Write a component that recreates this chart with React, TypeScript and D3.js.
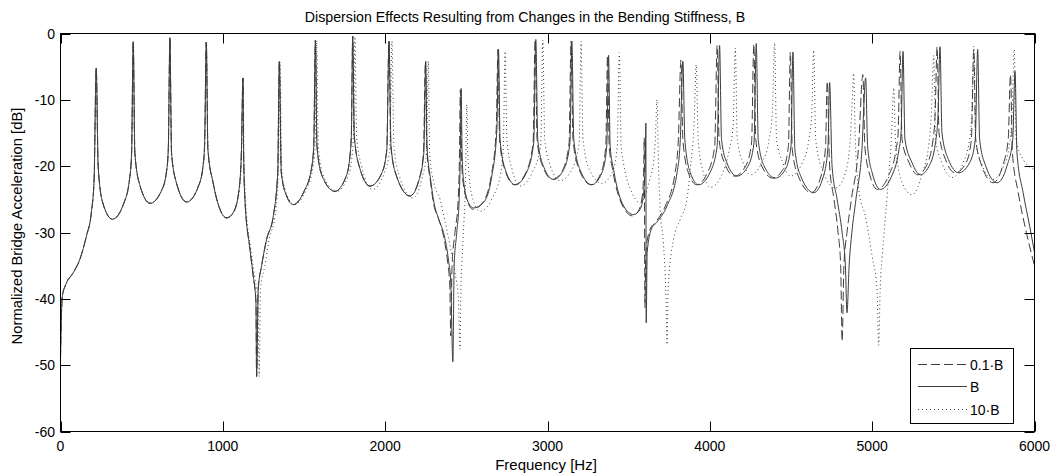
import React from "react";
import * as d3 from "d3";

type Pt = [number, number];

const xTicks = [0, 1000, 2000, 3000, 4000, 5000, 6000];
const yTicks = [0, -10, -20, -30, -40, -50, -60];

const seriesLabels = ["0.1·B", "B", "10·B"];

// 0.1·B (dashed)
const seriesTenthB: Pt[] = [
  [0,-49],[4,-44],[12,-39.5],[30,-38],[80,-36],[120,-34],[160,-30.5],[190,-27],[207,-22],[220,-5.2],[232,-20],[260,-25.5],[320,-28],
  [390,-25.6],[425,-22],[438,-18],[448,-1.2],[458,-18],[488,-22.8],[552,-25.6],
  [620,-23.8],[652,-21],[664,-17.5],[674,-0.65],[684,-18],[714,-22.5],[777,-25.4],
  [850,-23],[878,-20],[888,-16.5],[898,-1.3],[908,-17.5],[940,-22.5],[1023,-27.8],
  [1064,-27],[1100,-23.5],[1114,-18],[1124,-6.7],[1128,-18],[1136,-25],[1167,-32.5],[1187,-36.5],[1204,-40.5],[1208,-51.7],[1218,-38.5],[1239,-35],[1270,-31],[1311,-27.5],[1338,-21],[1348,-4.2],[1360,-21],[1393,-24.5],[1434,-25.8],
  [1500,-23.8],[1545,-20.5],[1560,-17],[1570,-1.05],[1580,-17],[1612,-21.5],[1690,-23.8],
  [1760,-21.5],[1785,-18],[1792,-15],[1800,-0.4],[1810,-15.5],[1840,-20],[1907,-23.0],
  [1980,-21],[2010,-17.5],[2023,-1.15],[2035,-17],[2070,-21.5],[2152,-24.5],
  [2208,-22],[2236,-18],[2248,-4.2],[2256,-17],[2280,-22.5],
  [2297,-25.5],[2330,-28],[2359,-30.5],[2385,-34.5],[2398,-38],[2404,-45.6],[2412,-35],[2430,-30],[2450,-25],[2458,-18],[2463,-8.5],[2470,-18],[2478,-22],[2510,-25.5],[2540,-26.5],
  [2600,-25.5],[2653,-21.5],[2684,-14.5],[2695,-2.4],[2705,-16],[2737,-20.5],[2797,-22.8],
  [2866,-21],[2911,-16.5],[2924,-0.9],[2936,-16],[2970,-20],[3032,-22.0],
  [3095,-20.5],[3133,-16.5],[3145,-1.2],[3157,-16],[3195,-20.5],[3268,-22.8],
  [3330,-21],[3359,-17],[3370,-3.3],[3380,-17],[3401,-20.5],[3463,-26],[3524,-27.5],[3565,-26.5],[3586,-24],[3593,-20],[3596,-15.7],[3600,-41.3],[3606,-33],[3632,-29.5],[3664,-28.5],[3726,-26],[3786,-21],[3806,-16],[3822,-4],[3834,-16],[3868,-21],[3918,-22.8],
  [3985,-21],[4030,-17],[4045,-1.8],[4057,-16],[4090,-19.5],[4152,-21.5],
  [4220,-20],[4257,-16.5],[4271,-1.6],[4283,-16],[4320,-20],[4388,-21.8],
  [4450,-20.5],[4484,-17],[4496,-2.8],[4508,-17.5],[4545,-21.5],[4625,-24.0],
  [4685,-21.5],[4713,-17],[4723,-7.2],[4738,-20],[4765,-25],[4790,-30],[4806,-35],[4815,-46.4],[4826,-35],[4845,-30],[4872,-25],[4915,-17.5],[4943,-6.2],[4955,-17],[4982,-21],[5032,-23.5],
  [5100,-21.5],[5147,-17.5],[5160,-15],[5172,-2.7],[5184,-16],[5228,-19.5],[5280,-21.3],
  [5330,-20.1],[5372,-16.5],[5388,-12],[5400,-2.0],[5412,-15],[5452,-19],[5512,-21.0],
  [5578,-19.5],[5611,-16],[5626,-2.5],[5638,-16],[5676,-20],[5745,-22.5],
  [5803,-20],[5838,-16],[5852,-6.2],[5864,-18],[5900,-24],[5950,-30],[6000,-35],
];

// B (solid)
const seriesB: Pt[] = [
  [0,-49],[4,-44],[12,-39.5],[30,-38],[80,-36],[120,-34],[160,-30.5],[190,-27],[207,-22],[220,-5.2],[232,-20],[260,-25.5],[320,-28],
  [390,-25.6],[425,-22],[438,-18],[448,-1.2],[458,-18],[488,-22.8],[552,-25.6],
  [620,-23.8],[652,-21],[664,-17.5],[674,-0.65],[684,-18],[714,-22.5],[777,-25.4],
  [850,-23],[878,-20],[888,-16.5],[898,-1.3],[908,-17.5],[940,-22.5],[1023,-27.8],
  [1064,-27],[1100,-23.5],[1114,-18],[1124,-6.7],[1128,-18],[1136,-25],[1167,-32.5],[1187,-36.5],[1204,-40.5],[1208,-51.7],[1218,-38.5],[1239,-35],[1270,-31],[1311,-27.5],[1338,-21],[1348,-4.2],[1360,-21],[1393,-24.5],[1434,-25.8],
  [1500,-23.8],[1545,-20.5],[1560,-17],[1570,-1.05],[1580,-17],[1612,-21.5],[1690,-23.8],
  [1760,-21.5],[1785,-18],[1792,-15],[1800,-0.4],[1810,-15.5],[1840,-20],[1907,-23.0],
  [1980,-21],[2010,-17.5],[2024,-1.15],[2036,-17],[2070,-21.5],[2153,-24.5],
  [2210,-22],[2238,-18],[2250,-4.2],[2258,-17],[2280,-22],[2297,-25],[2330,-28],[2359,-30],[2389,-34],[2404,-37.5],[2417,-49.5],[2425,-35],[2441,-30],[2456,-25],[2463,-18],[2468,-8.3],[2474,-18],[2482,-22],[2513,-25.5],[2544,-26.3],
  [2605,-25.5],[2657,-21.5],[2688,-14.5],[2698,-2.4],[2708,-16],[2740,-20.5],[2801,-22.8],
  [2870,-21],[2915,-16.5],[2928,-0.9],[2940,-16],[2975,-20],[3037,-22.0],
  [3100,-20.5],[3138,-16.5],[3150,-1.15],[3162,-16],[3200,-20.5],[3273,-22.8],
  [3335,-21],[3365,-17],[3376,-3.3],[3386,-17],[3407,-20.5],[3469,-26],[3530,-27.3],[3571,-26.5],[3592,-24],[3602,-20],[3606,-13.5],[3608,-43.6],[3614,-33],[3640,-29.5],[3672,-28.5],[3736,-26],[3798,-21],[3818,-16],[3834,-4.2],[3846,-16],[3880,-21],[3931,-22.8],
  [4000,-21],[4045,-17],[4060,-1.8],[4072,-16],[4105,-19.5],[4167,-21.5],
  [4235,-20],[4272,-16.5],[4286,-1.5],[4298,-16],[4335,-20],[4403,-21.8],
  [4465,-20.5],[4500,-17],[4512,-2.8],[4524,-17.5],[4560,-21.5],[4640,-24.0],
  [4700,-21.5],[4728,-17],[4738,-7.4],[4753,-20],[4784,-25],[4815,-30],[4835,-35],[4845,-42.1],[4858,-35],[4875,-30],[4900,-25],[4937,-17.5],[4960,-6.7],[4972,-17],[5000,-21],[5051,-23.5],
  [5120,-21.5],[5165,-17.5],[5178,-15],[5190,-2.7],[5202,-16],[5246,-19.5],[5297,-21.3],
  [5348,-20.1],[5390,-16.5],[5406,-12],[5418,-2.0],[5430,-15],[5470,-19],[5533,-21.0],
  [5600,-19.5],[5635,-16],[5650,-2.4],[5662,-16],[5700,-20],[5770,-22.5],
  [5830,-20],[5866,-16],[5880,-5.7],[5892,-18],[5930,-24],[5970,-29],[6000,-33],
];

// 10·B (dotted)
const seriesTenB: Pt[] = [
  [0,-49],[4,-44],[12,-39.5],[30,-38],[80,-36],[120,-34],[160,-30.5],[190,-27],[207,-22],[220,-5.2],[232,-20],[260,-25.5],[320,-28],
  [390,-25.6],[425,-22],[438,-18],[448,-1.2],[458,-18],[488,-22.8],[552,-25.6],
  [620,-23.8],[652,-21],[664,-17.5],[674,-0.65],[684,-18],[714,-22.5],[777,-25.4],
  [850,-23],[878,-20],[889,-16.5],[899,-1.3],[909,-17.5],[941,-22.5],[1025,-27.8],
  [1066,-27],[1102,-23.5],[1116,-18],[1126,-6.7],[1130,-18],[1140,-25],[1172,-32.5],[1195,-36.5],[1216,-40.5],[1224,-51.7],[1232,-38.5],[1259,-35],[1285,-31],[1322,-27.5],[1342,-21],[1352,-4.3],[1364,-21],[1398,-24.5],[1440,-25.8],
  [1508,-23.8],[1553,-20.5],[1568,-17],[1578,-1.1],[1588,-17],[1620,-21.5],[1700,-23.8],
  [1772,-21.5],[1798,-18],[1805,-15],[1814,-0.5],[1824,-15.5],[1855,-20],[1922,-23.5],
  [1995,-21],[2028,-17.5],[2042,-1.2],[2054,-17],[2088,-21.5],[2170,-24.8],
  [2225,-22],[2254,-18],[2266,-4.2],[2274,-18],[2300,-22.5],[2338,-25],[2370,-28.5],[2400,-32],[2430,-36],[2451,-40],[2461,-47.6],[2467,-38],[2472,-35],[2486,-28],[2492,-25],[2497,-19],[2503,-10.7],[2510,-19],[2540,-25],[2585,-26.8],
  [2660,-24.8],[2712,-21],[2728,-17],[2739,-2.7],[2750,-16],[2782,-20.5],[2832,-23],
  [2905,-21],[2958,-17],[2971,-1.0],[2983,-16],[3018,-20],[3078,-22.2],
  [3150,-20.5],[3195,-16.5],[3207,-1.2],[3219,-16],[3258,-20.5],[3335,-22.6],
  [3398,-21],[3430,-17],[3442,-2.9],[3454,-17],[3468,-19.5],[3520,-24],[3571,-25.5],[3630,-22],[3653,-19.5],[3666,-15],[3674,-10.0],[3684,-20],[3694,-26.5],[3714,-31.6],[3730,-40],[3736,-46.9],[3744,-38],[3777,-31],[3818,-28],[3859,-25],[3879,-20.5],[3904,-13],[3916,-4.7],[3928,-16],[3960,-21],[4003,-23.2],
  [4070,-21.5],[4120,-17.5],[4143,-14],[4157,-2.2],[4169,-16],[4205,-19.5],[4249,-21.3],
  [4320,-19.5],[4365,-16],[4385,-12],[4399,-1.4],[4411,-16],[4450,-19.5],[4496,-21.5],
  [4570,-19.5],[4610,-16],[4628,-12],[4640,-2.5],[4652,-16],[4700,-21],[4775,-23.3],
  [4835,-21],[4865,-16],[4876,-11],[4886,-6.0],[4896,-16],[4920,-24],[4958,-27.5],[5000,-33.6],[5030,-38.5],[5040,-47.0],[5050,-38],[5062,-33.6],[5092,-24.5],[5120,-15],[5133,-8.2],[5145,-17],[5185,-22.5],[5246,-24.3],
  [5310,-21],[5350,-16.5],[5365,-12],[5379,-3.3],[5391,-16],[5430,-19.5],[5493,-21.7],
  [5560,-19.5],[5600,-16],[5614,-12],[5626,-1.9],[5638,-16],[5680,-20],[5740,-22],
  [5810,-20],[5850,-16],[5862,-12],[5875,-2.4],[5887,-16],[5930,-19],[6000,-20.5],
];

const W = 1050;
const H = 475;
const PL = 60.5, PR = 1034.5, PT = 33.5, PB = 431.5;
const FONT = "'Liberation Sans', Arial, Helvetica, sans-serif";
const LINE = "#3c3c3c";

export default function App() {
  const x = d3.scaleLinear().domain([0, 6000]).range([PL, PR]);
  const y = d3.scaleLinear().domain([-60, 0]).range([PB, PT]);
  const line = d3
    .line<Pt>()
    .x((d) => x(d[0]))
    .y((d) => y(d[1]))
    .curve(d3.curveMonotoneX);

  const series = [
    { data: seriesTenthB, dash: "9,4" },
    { data: seriesB, dash: undefined as string | undefined },
    { data: seriesTenB, dash: "1,3" },
  ];

  const tickLen = 10;
  const legX0 = 910.5, legY0 = 348.5, legW = 103, legH = 75;
  const legRows = [365, 387, 410];

  return (
    <svg
      width={W}
      height={H}
      style={{ position: "absolute", left: 0, top: 0, background: "#fff" }}
      fontFamily={FONT}
    >
      <defs>
        <clipPath id="plotclip">
          <rect x={PL} y={PT - 2} width={PR - PL} height={PB - PT + 2} />
        </clipPath>
      </defs>
      <rect x={0} y={0} width={W} height={H} fill="#fff" />

      {/* series */}
      <g clipPath="url(#plotclip)">
        {series.map((s, i) => (
          <path
            key={i}
            d={line(s.data) || ""}
            fill="none"
            stroke={LINE}
            strokeWidth={1}
            strokeDasharray={s.dash}
          />
        ))}
      </g>

      {/* axes box */}
      <rect x={PL} y={PT} width={PR - PL} height={PB - PT} fill="none" stroke="#000" strokeWidth={1} />

      {/* x ticks */}
      {xTicks.map((t) => (
        <g key={"x" + t}>
          <line x1={Math.round(x(t)) + 0.5} x2={Math.round(x(t)) + 0.5} y1={PB} y2={PB - tickLen} stroke="#000" />
          <line x1={Math.round(x(t)) + 0.5} x2={Math.round(x(t)) + 0.5} y1={PT} y2={PT + tickLen} stroke="#000" />
          <text x={x(t)} y={451} fontSize={14} textAnchor="middle" fill="#000">
            {t}
          </text>
        </g>
      ))}

      {/* y ticks */}
      {yTicks.map((t) => (
        <g key={"y" + t}>
          <line x1={PL} x2={PL + tickLen} y1={Math.round(y(t)) + 0.5} y2={Math.round(y(t)) + 0.5} stroke="#000" />
          <line x1={PR} x2={PR - tickLen} y1={Math.round(y(t)) + 0.5} y2={Math.round(y(t)) + 0.5} stroke="#000" />
          <text x={55} y={y(t) + 5} fontSize={14} textAnchor="end" fill="#000">
            {t}
          </text>
        </g>
      ))}

      {/* title and labels */}
      <text x={525} y={22} fontSize={14.2} textAnchor="middle" fill="#000">
        Dispersion Effects Resulting from Changes in the Bending Stiffness, B
      </text>
      <text x={546} y={470} fontSize={15} textAnchor="middle" fill="#000">
        Frequency [Hz]
      </text>
      <text
        transform={`translate(22, 226) rotate(-90)`}
        fontSize={14.8}
        textAnchor="middle"
        fill="#000"
      >
        Normalized Bridge Acceleration [dB]
      </text>

      {/* legend */}
      <rect x={legX0} y={legY0} width={legW} height={legH} fill="#fff" stroke="#000" />
      {series.map((s, i) => (
        <g key={"leg" + i}>
          <line
            x1={918}
            x2={967}
            y1={legRows[i] - 0.5}
            y2={legRows[i] - 0.5}
            stroke={LINE}
            strokeDasharray={s.dash}
          />
          <text x={970} y={legRows[i] + 5} fontSize={14} fill="#000">
            {seriesLabels[i]}
          </text>
        </g>
      ))}
    </svg>
  );
}
